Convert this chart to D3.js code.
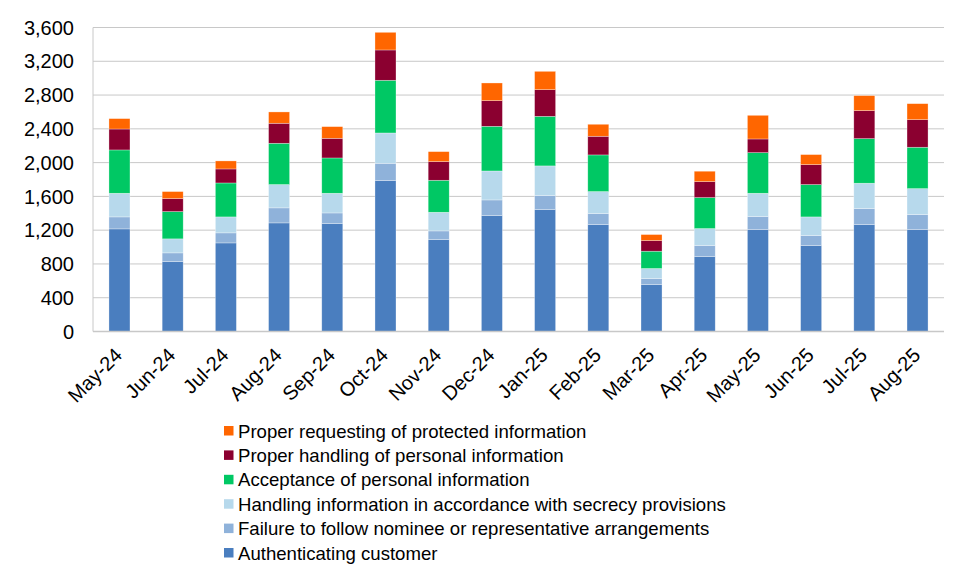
<!DOCTYPE html>
<html><head><meta charset="utf-8">
<script src="https://cdn.jsdelivr.net/npm/d3@7"></script>
<style>body{margin:0;background:#fff;}svg{display:block;font-family:"Liberation Sans",Arial,sans-serif;}</style>
</head><body><svg id="c" width="968" height="583"></svg>
<script>
const months = ["May-24","Jun-24","Jul-24","Aug-24","Sep-24","Oct-24","Nov-24","Dec-24","Jan-25","Feb-25","Mar-25","Apr-25","May-25","Jun-25","Jul-25","Aug-25"];
const authenticating = [1215,828,1049,1286,1278,1787,1089,1373,1444,1266,556,888,1207,1018,1266,1207];
const failureNominee = [142,103,119,178,126,205,102,185,166,131,71,130,154,118,190,178];
const handlingSecrecy = [280,166,189,276,233,359,221,343,351,260,119,201,276,221,300,307];
const acceptancePersonal = [513,323,402,489,418,624,379,529,587,434,205,367,481,383,528,490];
const properHandling = [248,154,166,237,233,359,221,304,316,221,126,189,162,236,332,327];
const properRequesting = [123,83,95,134,138,209,118,209,217,142,71,123,280,119,177,189];
const yTicks = [0,400,800,1200,1600,2000,2400,2800,3200,3600];

const seriesNames = ["Authenticating customer","Failure to follow nominee or representative arrangements","Handling information in accordance with secrecy provisions","Acceptance of personal information","Proper handling of personal information","Proper requesting of protected information"];
const seriesVals = [authenticating,failureNominee,handlingSecrecy,acceptancePersonal,properHandling,properRequesting];
const colors = ["#4a7ebf","#8fb2da","#b7d9ec","#00c864","#8b0030","#ff6600"];

const svg = d3.select("#c");
const m = {l:93, r:944, t:27.5, b:331.5};
const x = d3.scaleBand().domain(months).range([m.l,m.r]).paddingInner(0.605).paddingOuter(0.3);
const y = d3.scaleLinear().domain([0,3600]).range([m.b,m.t]);

const rows = months.map((mo,i)=>{const r={month:mo}; seriesNames.forEach((s,j)=>r[s]=seriesVals[j][i]); return r;});
const stack = d3.stack().keys(seriesNames)(rows);

// gridlines
svg.append("g").selectAll("line").data(yTicks.filter(d=>d>0)).join("line")
  .attr("x1",m.l).attr("x2",m.r).attr("y1",d=>y(d)).attr("y2",d=>y(d))
  .attr("stroke","#c8c8c8").attr("stroke-width",1);

svg.append("line").attr("x1",m.l).attr("x2",m.l).attr("y1",m.t).attr("y2",m.b).attr("stroke","#c8c8c8");

// bars
svg.append("g").selectAll("g").data(stack).join("g").attr("fill",(d,i)=>colors[i])
  .selectAll("rect").data(d=>d).join("rect")
  .attr("x",d=>x(d.data.month)).attr("width",x.bandwidth())
  .attr("y",d=>y(d[1])).attr("height",d=>y(d[0])-y(d[1]))
  .attr("stroke","rgba(255,255,255,0.5)").attr("stroke-width",0.6);

svg.append("line").attr("x1",m.l).attr("x2",m.r).attr("y1",m.b).attr("y2",m.b).attr("stroke","#c8c8c8").attr("stroke-width",1.5);

// y labels
svg.append("g").selectAll("text").data(yTicks).join("text")
  .attr("x",74).attr("y",d=>y(d)).attr("dy","0.36em").attr("text-anchor","end")
  .attr("font-size",20).attr("fill","#000").text(d=>d3.format(",")(d));

// x labels
svg.append("g").selectAll("text").data(months).join("text")
  .attr("text-anchor","end").attr("font-size",20).attr("fill","#000")
  .attr("transform",d=>`translate(${x(d)+x.bandwidth()/2+4},${m.b+25}) rotate(-45)`)
  .text(d=>d);

// legend (reverse order)
const leg = svg.append("g");
const legOrder = d3.range(seriesNames.length).reverse();
legOrder.forEach((si,k)=>{
  const yy = 431 + k*24.4;
  leg.append("rect").attr("x",224).attr("y",yy-5).attr("width",9.5).attr("height",9.5).attr("fill",colors[si]);
  leg.append("text").attr("x",238).attr("y",yy).attr("dy","0.36em").attr("font-size",18.6).attr("fill","#000").text(seriesNames[si]);
});
</script></body></html>
